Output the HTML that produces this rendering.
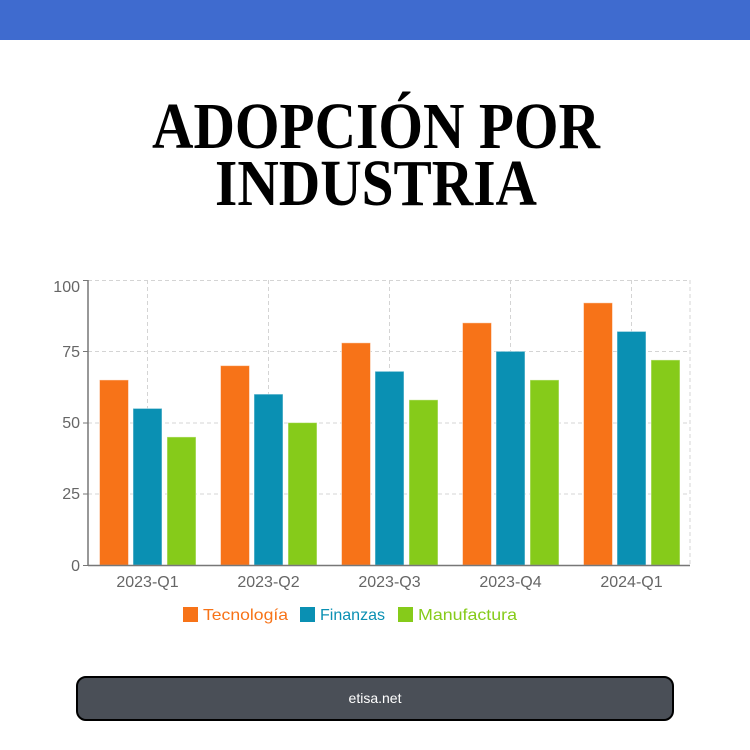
<!DOCTYPE html>
<html><head><meta charset="utf-8"><style>
body{margin:0;width:750px;height:750px;background:#fff;overflow:hidden;position:relative;font-family:"Liberation Sans",sans-serif}
.top{position:absolute;left:0;top:0;width:750px;height:40px;background:#3f6bcf}
.btn{position:absolute;left:76px;top:676px;width:594px;height:41px;background:#4a4f57;border:2px solid #000;border-radius:10px;color:#fff;font-size:14px;text-align:center;line-height:41px}
</style></head><body>
<div class="top"></div>
<svg width="750" height="750" style="position:absolute;left:0;top:0">
<g font-family="Liberation Serif,serif" font-weight="bold" fill="#000" text-anchor="middle">
<text x="376" y="148" font-size="66" textLength="448" lengthAdjust="spacingAndGlyphs">ADOPCIÓN POR</text>
<text x="376" y="205" font-size="66" textLength="322" lengthAdjust="spacingAndGlyphs">INDUSTRIA</text>
</g>
<g stroke="#d4d4d4" stroke-dasharray="4,3" stroke-width="1">
<line x1="88" y1="280.5" x2="690" y2="280.5"/>
<line x1="88" y1="351.5" x2="690" y2="351.5"/>
<line x1="88" y1="423" x2="690" y2="423"/>
<line x1="88" y1="494" x2="690" y2="494"/>
<line x1="147.5" y1="280" x2="147.5" y2="565"/>
<line x1="268.5" y1="280" x2="268.5" y2="565"/>
<line x1="389.5" y1="280" x2="389.5" y2="565"/>
<line x1="510.5" y1="280" x2="510.5" y2="565"/>
<line x1="631.5" y1="280" x2="631.5" y2="565"/>
<line x1="690" y1="280" x2="690" y2="565"/>
</g>
<g stroke="#fff" stroke-opacity="0.5">
<rect x="99.5" y="379.9" width="29" height="185.4" fill="#f77318"/>
<rect x="133" y="408.4" width="29" height="156.9" fill="#0a90b3"/>
<rect x="167" y="436.9" width="29" height="128.4" fill="#86cb1a"/>
<rect x="220.5" y="365.6" width="29" height="199.7" fill="#f77318"/>
<rect x="254" y="394.1" width="29" height="171.2" fill="#0a90b3"/>
<rect x="288" y="422.6" width="29" height="142.7" fill="#86cb1a"/>
<rect x="341.5" y="342.8" width="29" height="222.5" fill="#f77318"/>
<rect x="375" y="371.3" width="29" height="194" fill="#0a90b3"/>
<rect x="409" y="399.8" width="29" height="165.5" fill="#86cb1a"/>
<rect x="462.5" y="322.8" width="29" height="242.5" fill="#f77318"/>
<rect x="496" y="351.3" width="29" height="214" fill="#0a90b3"/>
<rect x="530" y="379.9" width="29" height="185.4" fill="#86cb1a"/>
<rect x="583.5" y="302.8" width="29" height="262.5" fill="#f77318"/>
<rect x="617" y="331.4" width="29" height="233.9" fill="#0a90b3"/>
<rect x="651" y="359.9" width="29" height="205.4" fill="#86cb1a"/>
</g>
<line x1="88" y1="280" x2="88" y2="566" stroke="#777" stroke-width="1.5"/>
<line x1="88" y1="565.5" x2="690" y2="565.5" stroke="#777" stroke-width="1.5"/>
<g stroke="#777"><line x1="83" y1="280.5" x2="88" y2="280.5"/><line x1="83" y1="351.5" x2="88" y2="351.5"/><line x1="83" y1="423" x2="88" y2="423"/><line x1="83" y1="494" x2="88" y2="494"/><line x1="83" y1="565.5" x2="88" y2="565.5"/></g>
<g font-size="16" fill="#666" text-anchor="end">
<text x="80" y="292">100</text><text x="80" y="357">75</text><text x="80" y="428">50</text><text x="80" y="499">25</text><text x="80" y="571">0</text>
</g>
<g font-size="16" fill="#666" text-anchor="middle">
<text x="147.5" y="587">2023-Q1</text><text x="268.5" y="587">2023-Q2</text><text x="389.5" y="587">2023-Q3</text><text x="510.5" y="587">2023-Q4</text><text x="631.5" y="587">2024-Q1</text>
</g>
<g font-size="16">
<rect x="183" y="607" width="15" height="15" fill="#f77318"/><text x="203" y="620" fill="#f77318" textLength="85" lengthAdjust="spacingAndGlyphs">Tecnología</text>
<rect x="300" y="607" width="15" height="15" fill="#0a90b3"/><text x="320" y="620" fill="#0a90b3" textLength="65" lengthAdjust="spacingAndGlyphs">Finanzas</text>
<rect x="398" y="607" width="15" height="15" fill="#86cb1a"/><text x="418" y="620" fill="#86cb1a" textLength="99" lengthAdjust="spacingAndGlyphs">Manufactura</text>
</g>
</svg>
<div class="btn">etisa.net</div>
</body></html>
